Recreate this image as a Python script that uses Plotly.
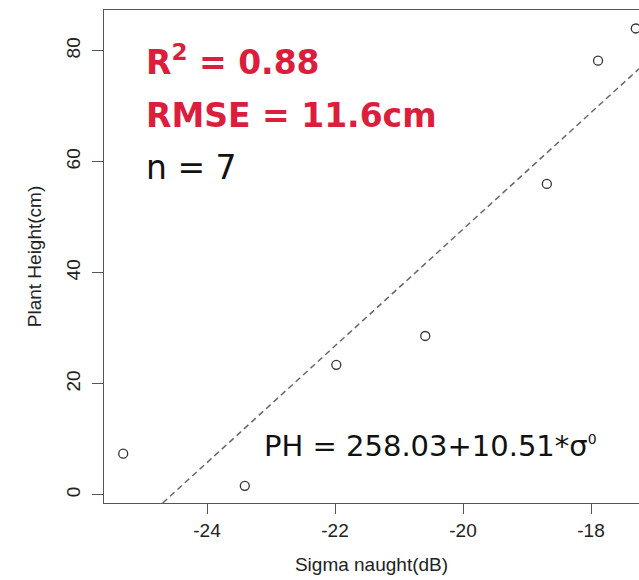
import plotly.graph_objects as go

# Data
sigma_naught = [-25.31, -23.41, -21.98, -20.59, -18.69, -17.89, -17.30]
plant_height = [7.4, 1.6, 23.4, 28.6, 56.0, 78.2, 84.0]

intercept = 258.03
slope = 10.51

x_ticks = [-24, -22, -20, -18]
y_ticks = [0, 20, 40, 60, 80]

x_range = [-25.61, -17.25]
y_range = [-1.49, 87.33]

red = "#DB1E3C"

# fitted line across the plot region (clipped at the bottom of the y range)
x_start = (y_range[0] - intercept) / slope
line_x = [x_start, x_range[1]]
line_y = [intercept + slope * v for v in line_x]

fig = go.Figure()
fig.add_trace(go.Scatter(
    x=line_x, y=line_y, mode="lines",
    line=dict(color="#666666", width=1.5, dash="6px,4px"),
    hoverinfo="skip", showlegend=False,
))
fig.add_trace(go.Scatter(
    x=sigma_naught, y=plant_height, mode="markers",
    marker=dict(symbol="circle-open", size=9, color="#333333",
                line=dict(width=1.3, color="#333333")),
    showlegend=False,
))

axis_font = dict(family="Liberation Sans, Arial, sans-serif", size=19, color="#222222")

fig.update_layout(
    width=639, height=580,
    margin=dict(l=104, r=0, t=10, b=77),
    paper_bgcolor="white", plot_bgcolor="white",
    xaxis=dict(
        range=x_range, tickvals=x_ticks, ticktext=[str(v) for v in x_ticks],
        showgrid=False, zeroline=False,
        showline=True, linecolor="#555555", linewidth=1.3, mirror=True,
        ticks="outside", ticklen=10, tickwidth=1.3, tickcolor="#555555",
        tickfont=axis_font,
        title=dict(text="Sigma naught(dB)", font=axis_font, standoff=17),
        automargin=False,
    ),
    yaxis=dict(
        range=y_range, tickvals=y_ticks, ticktext=[str(v) for v in y_ticks],
        showgrid=False, zeroline=False,
        showline=True, linecolor="#555555", linewidth=1.3, mirror=False,
        ticks="outside", ticklen=11, tickwidth=1.3, tickcolor="#555555",
        tickfont=axis_font, tickangle=-90, ticklabelstandoff=4,
        title=dict(text="Plant Height(cm)", font=axis_font, standoff=16),
        automargin=False,
    ),
)

ann_font = "DejaVu Sans, Verdana, sans-serif"
fig.add_annotation(xref="paper", yref="paper", x=0.074, y=0.8966,
                   xanchor="left", yanchor="middle", showarrow=False,
                   text="<b>R<sup>2</sup> = 0.88</b>",
                   font=dict(family=ann_font, size=33, color=red))
fig.add_annotation(xref="paper", yref="paper", x=0.074, y=0.786,
                   xanchor="left", yanchor="middle", showarrow=False,
                   text="<b>RMSE = 11.6cm</b>",
                   font=dict(family=ann_font, size=33, color=red))
fig.add_annotation(xref="paper", yref="paper", x=0.074, y=0.6805,
                   xanchor="left", yanchor="middle", showarrow=False,
                   text="n = 7",
                   font=dict(family=ann_font, size=33, color="#111111"))
fig.add_annotation(xref="paper", yref="paper", x=0.296, y=0.1156,
                   xanchor="left", yanchor="middle", showarrow=False,
                   text="PH = 258.03+10.51*σ<sup><span style='font-size:14px'>0</span></sup>",
                   font=dict(family=ann_font, size=29, color="#111111"))

fig.write_html("out.html", config={"displayModeBar": False},
               post_script="document.body.style.margin='0';document.body.style.overflow='hidden';")
